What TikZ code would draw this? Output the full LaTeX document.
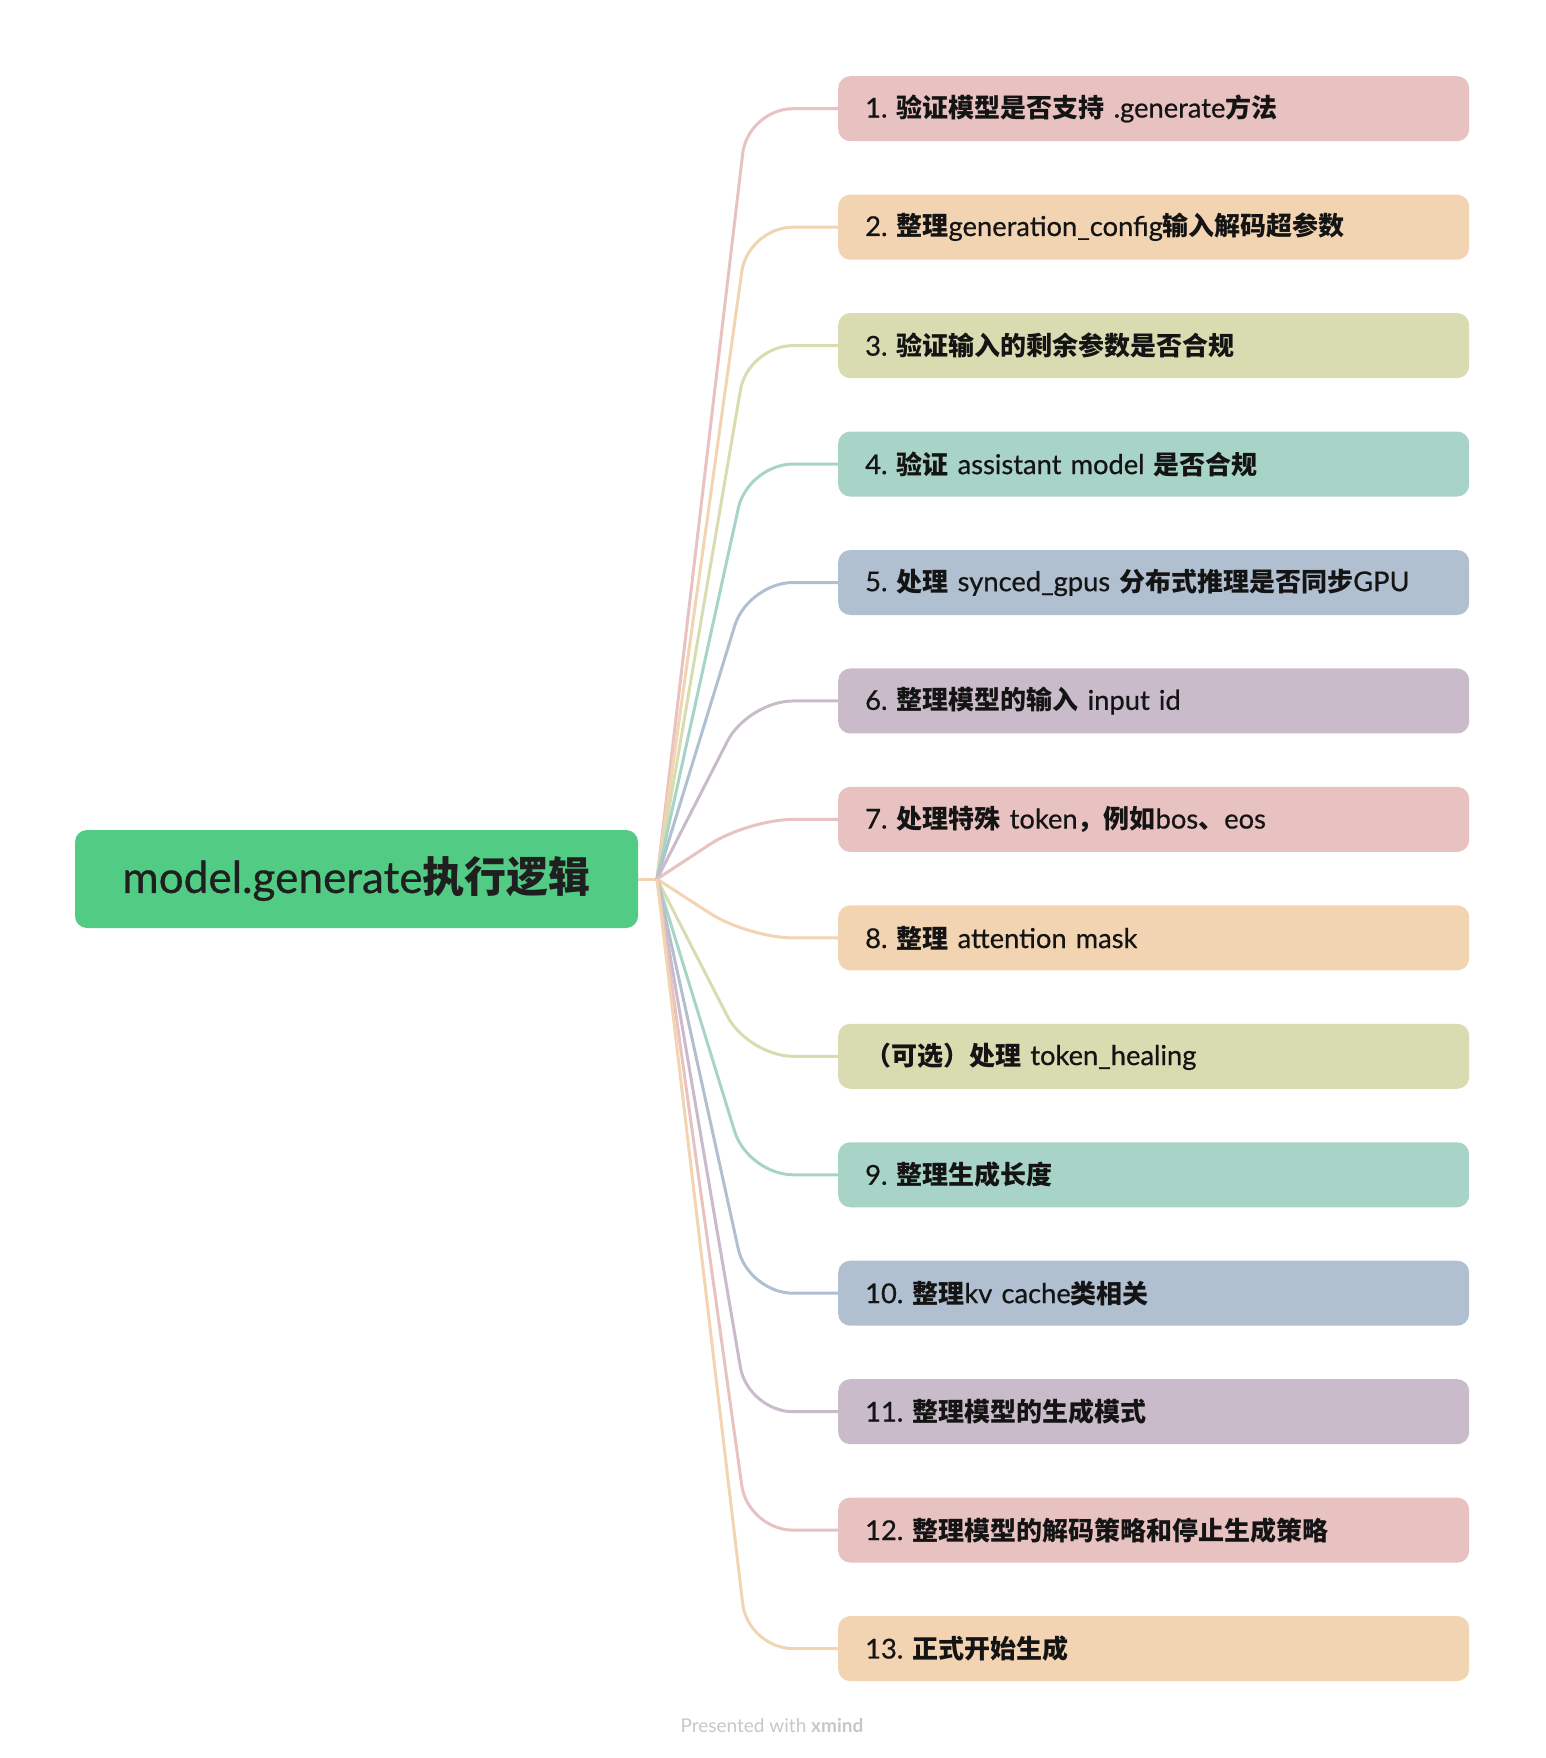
\documentclass[tikz,border=0pt]{standalone}
\usepackage{fontspec}
\setmainfont{Lato}[Scale=1.05, UprightFeatures={FakeBold=0.6}]
\newfontfamily\zhfont{Noto Sans CJK SC}
\newfontfamily\creditfont{Lato}
\newcommand\zh[1]{{\zhfont\bfseries #1}}
\frenchspacing
\definecolor{rootgreen}{RGB}{82,204,132}
\definecolor{cpink}{RGB}{232,193,193}
\definecolor{cpeach}{RGB}{242,212,178}
\definecolor{colive}{RGB}{217,220,176}
\definecolor{cteal}{RGB}{168,212,200}
\definecolor{cblue}{RGB}{176,192,208}
\definecolor{cmauve}{RGB}{201,187,202}
\tikzset{
  rootbox/.style={rectangle, rounded corners=12pt, fill=rootgreen, minimum width=563pt, minimum height=98pt, text=black!88, font=\fontsize{42}{48}\selectfont},
  stepbox/.style={rectangle, rounded corners=12pt, anchor=west, text width=577pt, inner xsep=27pt, minimum height=65pt, align=left, text=black!92, font=\fontsize{26}{30}\selectfont},
  conn/.style={line width=3pt, rounded corners=45pt}
}

\begin{document}
\begin{tikzpicture}[x=1pt,y=-1pt]
	\useasboundingbox (0,0) rectangle (1546,1758);
	
	\node[rootbox] (root) at (356.5,879) {model.generate\zh{执行逻辑}};
	\coordinate (o) at (657,879);
	\coordinate (bend) at (748,0);
	\draw[line width=3pt, cpeach] (root.east) -- (o);
	
	%the fourteen steps
	\foreach \i/\col/\txt in {
		1/cpink/{1. \zh{验证模型是否支持} .generate\zh{方法}},
		2/cpeach/{2. \zh{整理}generation\_config\zh{输入解码超参数}},
		3/colive/{3. \zh{验证输入的剩余参数是否合规}},
		4/cteal/{4. \zh{验证} assistant model \zh{是否合规}},
		5/cblue/{5. \zh{处理} synced\_gpus \zh{分布式推理是否同步}GPU},
		6/cmauve/{6. \zh{整理模型的输入} input id},
		7/cpink/{7. \zh{处理特殊} token\zh{，例如}bos\zh{、}eos},
		8/cpeach/{8. \zh{整理} attention mask},
		9/colive/{\zh{（可选）处理} token\_healing},
		10/cteal/{9. \zh{整理生成长度}},
		11/cblue/{10. \zh{整理}kv cache\zh{类相关}},
		12/cmauve/{11. \zh{整理模型的生成模式}},
		13/cpink/{12. \zh{整理模型的解码策略和停止生成策略}},
		14/cpeach/{13. \zh{正式开始生成}}}
	{
		\node[stepbox, fill=\col] (b\i) at (838,{108.7+(\i-1)*118.45}) {\txt};
		\draw[conn, \col] (o) -- (bend |- b\i.west) -- (b\i.west);
	}
	
	\node[text=black!22, font=\creditfont\fontsize{19}{23}\selectfont] (credit) at (772,1725) {Presented with \textbf{xmind}};
\end{tikzpicture}
\end{document}
